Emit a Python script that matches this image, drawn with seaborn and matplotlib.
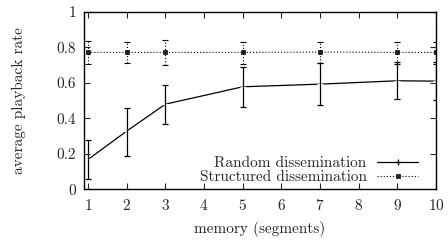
import matplotlib
matplotlib.use("Agg")
import matplotlib.pyplot as plt
import seaborn as sns
import pandas as pd
from matplotlib.lines import Line2D

sns.set_style("ticks")
plt.rcParams['font.family'] = ['cmr10', 'DejaVu Serif']
plt.rcParams['axes.formatter.use_mathtext'] = True
plt.rcParams['mathtext.fontset'] = 'cm'

memory = [1, 2, 3, 5, 7, 9, 10]
random_mean = [0.168, 0.328, 0.48, 0.578, 0.593, 0.612, 0.61]
random_low = [0.055, 0.19, 0.367, 0.463, 0.478, 0.507, 0.503]
random_high = [0.275, 0.46, 0.59, 0.69, 0.713, 0.72, 0.72]
struct_mean = [0.772, 0.772, 0.772, 0.772, 0.774, 0.772, 0.772]
struct_low = [0.705, 0.71, 0.70, 0.706, 0.71, 0.708, 0.708]
struct_high = [0.836, 0.832, 0.84, 0.832, 0.832, 0.832, 0.832]
labels = ["Random dissemination", "Structured dissemination"]

df = pd.DataFrame({
    "memory": memory * 2,
    "rate": random_mean + struct_mean,
    "series": [labels[0]] * len(memory) + [labels[1]] * len(memory),
})

FS = 11
fig, ax = plt.subplots(figsize=(4.48, 2.41), dpi=100)
fig.subplots_adjust(left=0.188, right=0.973, top=0.95, bottom=0.215)

dot = (0, (1, 1.8))
sns.lineplot(data=df[df.series == labels[0]], x="memory", y="rate", ax=ax,
             color="black", lw=0.9, marker="+", markersize=5, markeredgewidth=0.9,
             legend=False, errorbar=None)
sns.lineplot(data=df[df.series == labels[1]], x="memory", y="rate", ax=ax,
             color="black", lw=0.8, linestyle=dot, marker="s",
             markersize=3.5, markeredgewidth=0.6, markerfacecolor="#222222",
             markeredgecolor="#222222", legend=False, errorbar=None)

rl = [m - l for m, l in zip(random_mean, random_low)]
rh = [h - m for m, h in zip(random_mean, random_high)]
e1 = ax.errorbar(memory, random_mean, yerr=[rl, rh], fmt="none", ecolor="black",
                 elinewidth=0.9, capsize=2.5, capthick=0.9)
sl = [m - l for m, l in zip(struct_mean, struct_low)]
sh = [h - m for m, h in zip(struct_mean, struct_high)]
e2 = ax.errorbar(memory, struct_mean, yerr=[sl, sh], fmt="none", ecolor="black",
                 elinewidth=0.8, capsize=2.5, capthick=0.8)
for c in e2[2]:
    c.set_linestyle(dot)

ax.set_xlim(0.9, 10)
ax.set_ylim(0, 1)
ax.set_xticks(range(1, 11))
ax.set_yticks([0, 0.2, 0.4, 0.6, 0.8, 1])
ax.set_yticklabels(["0", "0.2", "0.4", "0.6", "0.8", "1"])
ax.set_xlabel("memory (segments)", fontsize=FS, labelpad=6)
ax.set_ylabel("average playback rate", fontsize=FS)
ax.yaxis.set_label_coords(-0.165, 0.5)
ax.tick_params(direction="in", top=True, right=True, labelsize=FS, length=4, width=0.8, pad=6)
for s in ax.spines.values():
    s.set_visible(True)
    s.set_linewidth(1.0)
    s.set_color("black")

handles = [
    Line2D([], [], color="black", lw=0.9, marker="+", markersize=5, markeredgewidth=0.9),
    Line2D([], [], color="black", lw=0.8, linestyle=dot, marker="s",
           markersize=3.5, markeredgewidth=0.6, markerfacecolor="#222222",
           markeredgecolor="#222222"),
]
ax.legend(handles, labels, loc="lower right", bbox_to_anchor=(0.97, -0.01),
          frameon=False, markerfirst=False,
          fontsize=FS, handlelength=2.7, handletextpad=0.7, labelspacing=0.0,
          borderaxespad=0.15, borderpad=0.3, numpoints=1)

fig.savefig("out.png", dpi=100)
